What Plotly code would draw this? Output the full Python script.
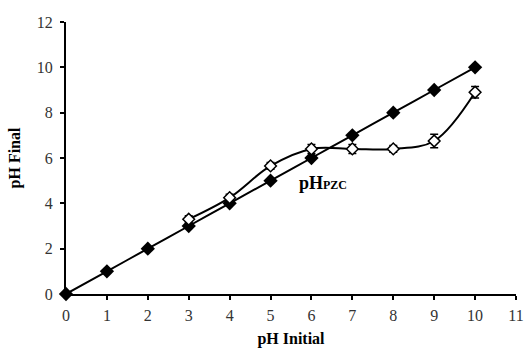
import plotly.graph_objects as go

ph_initial_ref = [0, 1, 2, 3, 4, 5, 6, 7, 8, 9, 10]
ph_final_ref = [0, 1, 2, 3, 4, 5, 6, 7, 8, 9, 10]

ph_initial = [3, 4, 5, 6, 7, 8, 9, 10]
ph_final = [3.3, 4.25, 5.65, 6.4, 6.4, 6.4, 6.75, 8.9]
ph_err = [0.15, 0.15, 0.15, 0.2, 0.2, 0.15, 0.3, 0.25]

x_ticks = list(range(0, 12))
y_ticks = list(range(0, 13, 2))

font = "Liberation Serif, Times New Roman, serif"

fig = go.Figure()
fig.add_trace(go.Scatter(
    x=ph_initial_ref, y=ph_final_ref, mode="lines+markers",
    line=dict(color="black", width=2, shape="spline"),
    marker=dict(symbol="diamond", size=11, color="black"),
    showlegend=False, cliponaxis=False))
fig.add_trace(go.Scatter(
    x=ph_initial, y=ph_final, mode="lines+markers",
    line=dict(color="black", width=2, shape="spline", smoothing=1),
    marker=dict(symbol="diamond", size=9, color="white", line=dict(color="black", width=1.5)),
    error_y=dict(type="data", array=ph_err, color="black", thickness=1.5, width=4),
    showlegend=False, cliponaxis=False))

fig.add_annotation(x=6.28, y=4.9, text="<b>pH<span style='font-size:12px'>PZC</span></b>",
                   showarrow=False, font=dict(family=font, size=18, color="black"))

fig.update_layout(
    width=526, height=352,
    margin=dict(l=66, r=10, t=22, b=58),
    paper_bgcolor="white", plot_bgcolor="white",
    font=dict(family=font, size=16, color="#333"),
)
fig.update_xaxes(range=[0, 11], tickvals=x_ticks, showline=True, linecolor="black", linewidth=2,
                 ticks="outside", ticklen=4, tickwidth=2, tickcolor="black", showgrid=False, zeroline=False,
                 ticklabelstandoff=2, automargin=False,
                 title=dict(text="<b>pH Initial</b>", font=dict(family=font, size=16, color="black"), standoff=10))
fig.update_yaxes(range=[0, 12], tickvals=y_ticks, showline=True, linecolor="black", linewidth=2,
                 ticks="outside", ticklen=4, tickwidth=2, tickcolor="black", showgrid=False, zeroline=False,
                 ticklabelstandoff=4, automargin=False,
                 title=dict(text="<b>pH Final</b>", font=dict(family=font, size=16, color="black"), standoff=12))

fig.write_html("out.html")
